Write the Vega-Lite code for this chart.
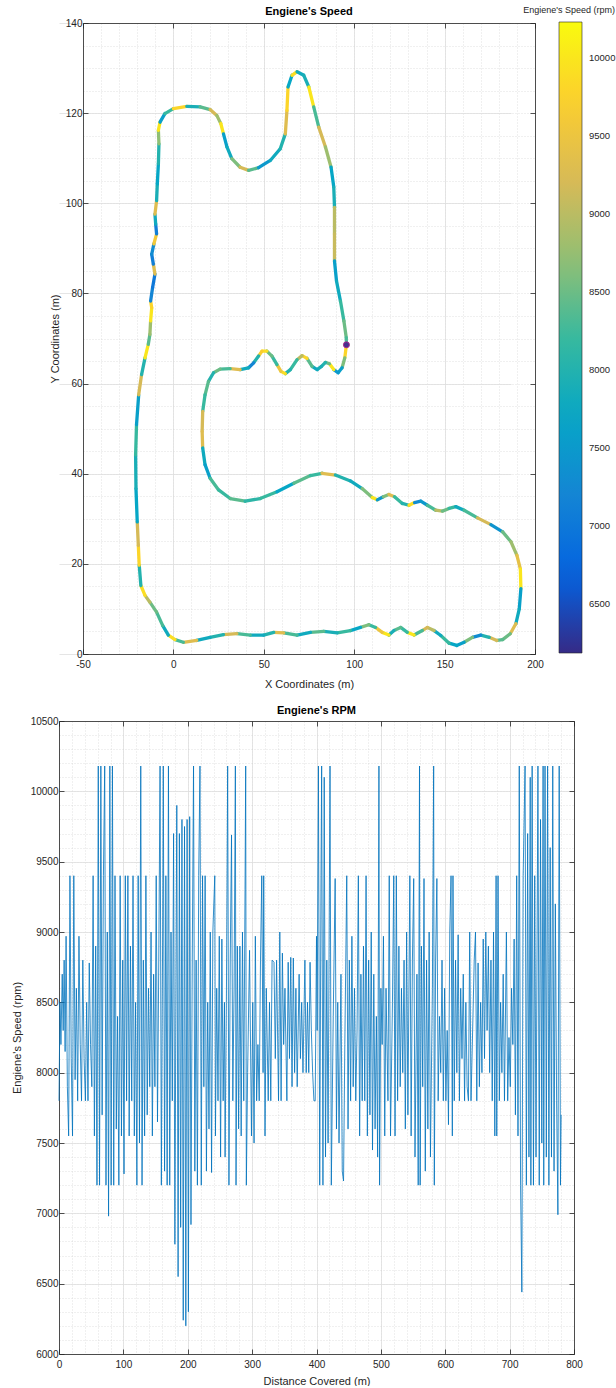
{
  "$schema": "https://vega.github.io/schema/vega-lite/v6.json",
  "background": "white",
  "padding": {"left": 11, "top": 6, "right": 0, "bottom": 0},
  "config": {
    "view": {"stroke": null},
    "font": "Liberation Sans",
    "title": {"font": "Liberation Sans"},
    "axis": {"labelFont": "Liberation Sans", "titleFont": "Liberation Sans"},
    "legend": {"labelFont": "Liberation Sans", "titleFont": "Liberation Sans"}
  },
  "align": "all",
  "spacing": 16,
  "datasets": {
    "start": [{"x": 95.7, "y": 68.6}],
    "track": [
      {"x":95.7,"y":68.6,"r":9800},{"x":94.8,"y":65.7,"r":8600},{"x":93.3,"y":63.5,"r":7600},{"x":91.1,"y":62.4,"r":7500},
      {"x":88.7,"y":63.1,"r":10000},{"x":86.3,"y":64.4,"r":8500},{"x":84.1,"y":64.7,"r":8000},{"x":81.9,"y":63.8,"r":7900},
      {"x":79.5,"y":63.1,"r":7800},{"x":76.7,"y":63.8,"r":8400},{"x":73.9,"y":65.6,"r":9800},{"x":71.2,"y":66.2,"r":9000},
      {"x":68.4,"y":65.3,"r":8200},{"x":64.7,"y":63.1,"r":8000},{"x":61.9,"y":62.2,"r":9900},{"x":59.5,"y":62.7,"r":9500},
      {"x":57.3,"y":64.2,"r":8200},{"x":54.5,"y":66.1,"r":8500},{"x":51.7,"y":67.2,"r":9900},{"x":49.0,"y":67.2,"r":9700},
      {"x":47.1,"y":66.1,"r":8000},{"x":44.4,"y":64.6,"r":7200},{"x":41.6,"y":63.5,"r":7800},{"x":36.9,"y":63.1,"r":9300},
      {"x":31.4,"y":63.3,"r":8300},{"x":25.8,"y":63.2,"r":8500},{"x":22.2,"y":62.4,"r":8000},{"x":19.4,"y":60.5,"r":8400},
      {"x":17.5,"y":57.5,"r":8200},{"x":16.2,"y":53.8,"r":9200},{"x":15.9,"y":49.4,"r":9300},{"x":16.2,"y":45.7,"r":7800},
      {"x":17.5,"y":42.0,"r":7600},{"x":20.3,"y":39.0,"r":8300},{"x":25.0,"y":36.4,"r":8200},{"x":31.4,"y":34.5,"r":8400},
      {"x":39.7,"y":33.9,"r":8100},{"x":48.0,"y":34.5,"r":8200},{"x":57.3,"y":36.0,"r":7700},{"x":66.6,"y":37.9,"r":8400},
      {"x":75.8,"y":39.6,"r":8200},{"x":82.2,"y":40.1,"r":9300},{"x":89.6,"y":39.7,"r":8000},{"x":97.9,"y":38.4,"r":7800},
      {"x":104.4,"y":36.7,"r":8600},{"x":110.0,"y":34.7,"r":10000},{"x":112.8,"y":34.2,"r":7500},{"x":116.1,"y":34.9,"r":8600},
      {"x":119.2,"y":35.4,"r":9300},{"x":122.3,"y":34.9,"r":8200},{"x":126.6,"y":33.4,"r":8000},{"x":130.3,"y":33.0,"r":9900},
      {"x":133.4,"y":33.6,"r":7300},{"x":136.8,"y":33.9,"r":7500},{"x":140.5,"y":33.0,"r":8300},{"x":145.1,"y":31.9,"r":9000},
      {"x":148.8,"y":31.7,"r":8500},{"x":152.5,"y":32.3,"r":8200},{"x":156.2,"y":32.7,"r":7800},{"x":160.8,"y":31.9,"r":8300},
      {"x":168.2,"y":30.2,"r":9200},{"x":175.6,"y":28.7,"r":7400},{"x":182.1,"y":27.1,"r":8500},{"x":186.7,"y":24.9,"r":8800},
      {"x":190.0,"y":21.9,"r":9400},{"x":191.9,"y":18.9,"r":10000},{"x":192.2,"y":14.5,"r":7600},{"x":191.3,"y":10.0,"r":7800},
      {"x":189.4,"y":6.7,"r":9300},{"x":186.3,"y":4.5,"r":8500},{"x":182.1,"y":3.2,"r":8400},{"x":178.9,"y":3.0,"r":9200},
      {"x":174.7,"y":3.7,"r":8000},{"x":170.0,"y":4.2,"r":7300},{"x":165.4,"y":3.7,"r":8600},{"x":160.8,"y":2.6,"r":7600},
      {"x":156.7,"y":1.9,"r":7700},{"x":152.5,"y":2.4,"r":8200},{"x":147.9,"y":4.1,"r":7800},{"x":144.2,"y":5.2,"r":9000},
      {"x":140.5,"y":5.9,"r":9200},{"x":137.7,"y":5.2,"r":8300},{"x":133.1,"y":4.2,"r":10000},{"x":129.4,"y":4.8,"r":8200},
      {"x":125.7,"y":5.9,"r":8400},{"x":122.0,"y":5.2,"r":7900},{"x":119.2,"y":4.2,"r":10000},{"x":115.5,"y":4.8,"r":9500},
      {"x":111.8,"y":5.9,"r":8200},{"x":108.1,"y":6.5,"r":8600},{"x":103.5,"y":5.9,"r":7700},{"x":97.9,"y":5.2,"r":8200},
      {"x":90.6,"y":4.7,"r":7900},{"x":83.2,"y":5.0,"r":8400},{"x":75.8,"y":4.8,"r":7800},{"x":68.4,"y":4.2,"r":8300},
      {"x":61.0,"y":4.7,"r":9300},{"x":55.5,"y":4.8,"r":8000},{"x":49.9,"y":4.2,"r":7800},{"x":42.5,"y":4.2,"r":8300},
      {"x":35.1,"y":4.5,"r":9200},{"x":27.7,"y":4.3,"r":8000},{"x":20.3,"y":3.7,"r":7800},{"x":12.9,"y":3.0,"r":9300},
      {"x":5.5,"y":2.6,"r":8300},{"x":0.9,"y":3.2,"r":9900},{"x":-2.8,"y":4.2,"r":7800},{"x":-5.9,"y":6.3,"r":8300},
      {"x":-9.3,"y":9.3,"r":8500},{"x":-13.0,"y":11.5,"r":9000},{"x":-15.7,"y":13.0,"r":9900},{"x":-18.0,"y":15.2,"r":8000},
      {"x":-18.9,"y":19.7,"r":9800},{"x":-19.4,"y":24.1,"r":9200},{"x":-20.0,"y":29.3,"r":7700},{"x":-20.7,"y":36.7,"r":7900},
      {"x":-20.9,"y":44.2,"r":8200},{"x":-20.4,"y":50.9,"r":7600},{"x":-19.2,"y":57.5,"r":9200},{"x":-17.6,"y":62.0,"r":8000},
      {"x":-15.7,"y":65.7,"r":10000},{"x":-13.9,"y":68.7,"r":8400},{"x":-13.0,"y":70.9,"r":8800},{"x":-12.6,"y":73.9,"r":10000},
      {"x":-12.0,"y":76.8,"r":9800},{"x":-12.6,"y":78.3,"r":7200},{"x":-11.5,"y":81.3,"r":7000},{"x":-10.2,"y":84.3,"r":9300},
      {"x":-11.1,"y":86.5,"r":7100},{"x":-12.0,"y":88.7,"r":7300},{"x":-10.8,"y":91.0,"r":9600},{"x":-9.3,"y":93.2,"r":7100},
      {"x":-9.8,"y":95.4,"r":7800},{"x":-10.2,"y":97.6,"r":9300},{"x":-9.3,"y":100.6,"r":7900},{"x":-8.9,"y":104.3,"r":7700},
      {"x":-8.3,"y":108.8,"r":8000},{"x":-8.0,"y":113.2,"r":8700},{"x":-8.3,"y":116.2,"r":10000},{"x":-7.4,"y":118.0,"r":7600},
      {"x":-4.7,"y":119.9,"r":8200},{"x":0.0,"y":121.0,"r":9800},{"x":7.4,"y":121.5,"r":7900},{"x":14.8,"y":121.4,"r":8400},
      {"x":20.3,"y":120.8,"r":9200},{"x":24.0,"y":119.5,"r":8800},{"x":26.2,"y":117.7,"r":10000},{"x":27.7,"y":115.4,"r":7600},
      {"x":29.6,"y":112.5,"r":7800},{"x":32.3,"y":109.9,"r":8600},{"x":36.9,"y":108.0,"r":9200},{"x":41.6,"y":107.3,"r":8400},
      {"x":47.1,"y":107.9,"r":7500},{"x":53.6,"y":109.5,"r":7800},{"x":59.1,"y":112.1,"r":8000},{"x":61.9,"y":115.4,"r":9300},
      {"x":62.8,"y":120.6,"r":9800},{"x":63.4,"y":125.8,"r":7700},{"x":65.6,"y":128.4,"r":9900},{"x":68.4,"y":129.2,"r":7800},
      {"x":72.1,"y":128.4,"r":7900},{"x":74.9,"y":125.8,"r":10000},{"x":77.6,"y":121.4,"r":8300},{"x":80.4,"y":116.9,"r":9200},
      {"x":84.1,"y":112.5,"r":8800},{"x":87.2,"y":108.0,"r":7700},{"x":88.7,"y":103.6,"r":7900},{"x":89.1,"y":99.1,"r":9000},
      {"x":89.1,"y":93.2,"r":9100},{"x":89.1,"y":87.2,"r":7600},{"x":90.2,"y":82.8,"r":7800},{"x":92.4,"y":78.3,"r":8200},
      {"x":94.3,"y":73.9,"r":8500},{"x":95.6,"y":70.2,"r":8300},{"x":95.7,"y":68.6,"r":8300}
    ],
    "series": [
      {"d":0,"r":7800},{"d":1.5,"r":8500},{"d":3,"r":8200},{"d":5,"r":8700},{"d":6.5,"r":8300},{"d":8,"r":8800},{"d":9.5,"r":8150},{"d":11,"r":8970},
      {"d":13,"r":7900},{"d":15,"r":7550},{"d":17,"r":9400},{"d":19,"r":8100},{"d":21,"r":7550},{"d":23,"r":9400},{"d":25,"r":7950},{"d":27,"r":8600},
      {"d":29,"r":7800},{"d":31,"r":8970},{"d":33,"r":8200},{"d":35,"r":7800},{"d":37,"r":8800},{"d":39,"r":8100},{"d":41,"r":7800},{"d":43,"r":8500},
      {"d":45,"r":7800},{"d":47,"r":8780},{"d":49,"r":8200},{"d":51,"r":7900},{"d":53,"r":9400},{"d":55,"r":7550},{"d":57,"r":8900},{"d":59,"r":7200},
      {"d":61,"r":10180},{"d":63,"r":7200},{"d":65,"r":10180},{"d":67,"r":7700},{"d":69,"r":9400},{"d":71,"r":10180},{"d":73,"r":7200},{"d":75,"r":9000},
      {"d":77,"r":6980},{"d":79,"r":10180},{"d":81,"r":7200},{"d":83,"r":10180},{"d":85,"r":7200},{"d":87,"r":9400},{"d":89,"r":7600},{"d":91,"r":8400},
      {"d":93,"r":7200},{"d":95,"r":9400},{"d":97,"r":7550},{"d":99,"r":8800},{"d":101,"r":7280},{"d":103,"r":9400},{"d":105,"r":7800},{"d":107,"r":9400},
      {"d":109,"r":7550},{"d":111,"r":8900},{"d":113,"r":7800},{"d":115,"r":9400},{"d":117,"r":7550},{"d":119,"r":8500},{"d":121,"r":7200},{"d":123,"r":9400},
      {"d":125,"r":7500},{"d":127,"r":10180},{"d":129,"r":7200},{"d":131,"r":8800},{"d":133,"r":7550},{"d":135,"r":9400},{"d":137,"r":7700},{"d":139,"r":8600},
      {"d":141,"r":7900},{"d":143,"r":9000},{"d":145,"r":7550},{"d":147,"r":8700},{"d":149,"r":7900},{"d":151,"r":9400},{"d":153,"r":7650},{"d":155,"r":8800},
      {"d":157,"r":10180},{"d":159,"r":7200},{"d":161,"r":9000},{"d":162,"r":10180},{"d":164,"r":7300},{"d":166,"r":9400},{"d":168,"r":7200},{"d":170,"r":10180},
      {"d":172,"r":7200},{"d":174,"r":9000},{"d":176,"r":7800},{"d":178,"r":9700},{"d":180,"r":6780},{"d":182,"r":9000},{"d":183,"r":9900},{"d":185,"r":6550},
      {"d":187,"r":9700},{"d":189,"r":6900},{"d":191,"r":9800},{"d":193,"r":6240},{"d":195,"r":9750},{"d":197,"r":6200},{"d":199,"r":9800},{"d":201,"r":6300},
      {"d":203,"r":9820},{"d":205,"r":6920},{"d":207,"r":8800},{"d":209,"r":10180},{"d":211,"r":7300},{"d":213,"r":8800},{"d":215,"r":7200},{"d":217,"r":9400},
      {"d":219,"r":10180},{"d":221,"r":7200},{"d":223,"r":9400},{"d":225,"r":7900},{"d":227,"r":9400},{"d":229,"r":7300},{"d":231,"r":8500},{"d":233,"r":7600},
      {"d":235,"r":9000},{"d":237,"r":7290},{"d":239,"r":9000},{"d":242,"r":9400},{"d":243,"r":7550},{"d":245,"r":8600},{"d":247,"r":7800},{"d":249,"r":8970},
      {"d":251,"r":7400},{"d":253,"r":8950},{"d":255,"r":7800},{"d":257,"r":8500},{"d":258,"r":7400},{"d":260,"r":8500},{"d":262,"r":10180},{"d":264,"r":7200},
      {"d":266,"r":8800},{"d":268,"r":9690},{"d":270,"r":7800},{"d":272,"r":8600},{"d":274,"r":10180},{"d":275,"r":7200},{"d":277,"r":8900},{"d":279,"r":7600},
      {"d":281,"r":8900},{"d":283,"r":7550},{"d":285,"r":9000},{"d":287,"r":7800},{"d":289,"r":9300},{"d":290,"r":10180},{"d":291,"r":7200},{"d":293,"r":8000},
      {"d":296,"r":8870},{"d":299,"r":7550},{"d":301,"r":8500},{"d":303,"r":7500},{"d":305,"r":8970},{"d":307,"r":7800},{"d":309,"r":8200},{"d":311,"r":7800},
      {"d":313,"r":8800},{"d":315,"r":9400},{"d":317,"r":8000},{"d":318,"r":9400},{"d":320,"r":7550},{"d":322,"r":8600},{"d":325,"r":7800},{"d":327,"r":8500},
      {"d":329,"r":7800},{"d":331,"r":8800},{"d":334,"r":8785},{"d":336,"r":8100},{"d":338,"r":8800},{"d":341,"r":7800},{"d":343,"r":9000},{"d":345,"r":7800},
      {"d":347,"r":8850},{"d":349,"r":8200},{"d":351,"r":8600},{"d":354,"r":7800},{"d":356,"r":8785},{"d":358,"r":8100},{"d":360,"r":8820},{"d":362,"r":7900},
      {"d":364,"r":8815},{"d":366,"r":8000},{"d":368,"r":8600},{"d":370,"r":7900},{"d":373,"r":8700},{"d":375,"r":8100},{"d":377,"r":8500},{"d":379,"r":8000},
      {"d":382,"r":8800},{"d":384,"r":8000},{"d":386,"r":8500},{"d":388,"r":8000},{"d":390,"r":8785},{"d":392,"r":8300},{"d":394,"r":8000},{"d":396,"r":7800},
      {"d":398,"r":7800},{"d":400,"r":8970},{"d":401,"r":8300},{"d":403,"r":10180},{"d":405,"r":7200},{"d":407,"r":9400},{"d":408,"r":10180},{"d":410,"r":7200},
      {"d":412,"r":10100},{"d":414,"r":7400},{"d":416,"r":8800},{"d":418,"r":7500},{"d":421,"r":10180},{"d":423,"r":7200},{"d":426,"r":8400},{"d":429,"r":9380},
      {"d":431,"r":7600},{"d":433,"r":8500},{"d":435,"r":7500},{"d":438,"r":8700},{"d":440,"r":7300},{"d":442,"r":7230},{"d":444,"r":8200},{"d":447,"r":9400},
      {"d":449,"r":7600},{"d":451,"r":8800},{"d":453,"r":7800},{"d":455,"r":8970},{"d":457,"r":7900},{"d":459,"r":8600},{"d":461,"r":7800},{"d":463,"r":8300},
      {"d":465,"r":9400},{"d":467,"r":7550},{"d":469,"r":8700},{"d":471,"r":7800},{"d":473,"r":8900},{"d":475,"r":7800},{"d":477,"r":9400},{"d":479,"r":7550},
      {"d":481,"r":8800},{"d":483,"r":7700},{"d":485,"r":9000},{"d":487,"r":7450},{"d":489,"r":8700},{"d":491,"r":7600},{"d":493,"r":8400},{"d":495,"r":7400},
      {"d":497,"r":10180},{"d":498,"r":7200},{"d":500,"r":8600},{"d":502,"r":8200},{"d":504,"r":8970},{"d":506,"r":7550},{"d":508,"r":8600},{"d":511,"r":7800},
      {"d":513,"r":9400},{"d":515,"r":7550},{"d":518,"r":8500},{"d":520,"r":9400},{"d":522,"r":7550},{"d":524,"r":9400},{"d":526,"r":7800},{"d":528,"r":8900},
      {"d":530,"r":7900},{"d":532,"r":8600},{"d":534,"r":8000},{"d":536,"r":8800},{"d":538,"r":7600},{"d":540,"r":9000},{"d":542,"r":7700},{"d":545,"r":9400},
      {"d":547,"r":7550},{"d":549,"r":8800},{"d":551,"r":9380},{"d":553,"r":7400},{"d":556,"r":8700},{"d":558,"r":7200},{"d":560,"r":10180},{"d":561,"r":7200},
      {"d":563,"r":8900},{"d":565,"r":7900},{"d":567,"r":9380},{"d":569,"r":7300},{"d":571,"r":8800},{"d":573,"r":7600},{"d":575,"r":9000},{"d":577,"r":7400},
      {"d":580,"r":8600},{"d":582,"r":10180},{"d":583,"r":7200},{"d":585,"r":8800},{"d":587,"r":9380},{"d":589,"r":7800},{"d":591,"r":8400},{"d":593,"r":8000},
      {"d":595,"r":8800},{"d":597,"r":7800},{"d":599,"r":8600},{"d":601,"r":7800},{"d":603,"r":8300},{"d":605,"r":7630},{"d":607,"r":9000},{"d":609,"r":9400},
      {"d":611,"r":7550},{"d":612,"r":9400},{"d":614,"r":7800},{"d":616,"r":8800},{"d":618,"r":8000},{"d":620,"r":8980},{"d":622,"r":7800},{"d":624,"r":8600},
      {"d":626,"r":8100},{"d":628,"r":8700},{"d":630,"r":7800},{"d":632,"r":8500},{"d":634,"r":7900},{"d":636,"r":7800},{"d":638,"r":9000},{"d":640,"r":7800},
      {"d":642,"r":8190},{"d":645,"r":8800},{"d":647,"r":9000},{"d":649,"r":7800},{"d":651,"r":8780},{"d":653,"r":7900},{"d":655,"r":8500},{"d":657,"r":8000},
      {"d":659,"r":8950},{"d":661,"r":8100},{"d":663,"r":9000},{"d":665,"r":8300},{"d":667,"r":8900},{"d":669,"r":8000},{"d":671,"r":8800},{"d":673,"r":7800},
      {"d":675,"r":9000},{"d":677,"r":7550},{"d":679,"r":9400},{"d":680,"r":7550},{"d":682,"r":9400},{"d":684,"r":7800},{"d":686,"r":8500},{"d":688,"r":8000},
      {"d":690,"r":8700},{"d":692,"r":7800},{"d":695,"r":9000},{"d":697,"r":7800},{"d":699,"r":8250},{"d":701,"r":7900},{"d":703,"r":8600},{"d":705,"r":8200},
      {"d":707,"r":8950},{"d":709,"r":7700},{"d":711,"r":9400},{"d":713,"r":7550},{"d":715,"r":10180},{"d":717,"r":7200},{"d":719,"r":6440},{"d":721,"r":9400},
      {"d":724,"r":10180},{"d":726,"r":7200},{"d":728,"r":9700},{"d":730,"r":7400},{"d":732,"r":10100},{"d":733,"r":7200},{"d":735,"r":10180},{"d":737,"r":7200},
      {"d":739,"r":9400},{"d":741,"r":7400},{"d":744,"r":10180},{"d":746,"r":7200},{"d":748,"r":9800},{"d":750,"r":7500},{"d":752,"r":10180},{"d":753,"r":7200},
      {"d":755,"r":10180},{"d":757,"r":7400},{"d":759,"r":10180},{"d":761,"r":7200},{"d":763,"r":9600},{"d":765,"r":7400},{"d":767,"r":10180},{"d":769,"r":7300},
      {"d":771,"r":9200},{"d":773,"r":7800},{"d":775,"r":6990},{"d":777,"r":10180},{"d":779,"r":7200},{"d":780,"r":7700}
    ]
  },
  "vconcat": [
    {
      "width": 476,
      "height": 631,
      "title": {"text": "Engiene's Speed", "fontSize": 11, "fontWeight": "bold", "color": "#000000", "frame": "group", "anchor": "middle", "dx": 12, "offset": 1},
      "resolve": {"axis": {"x": "independent", "y": "independent"}},
      "layer": [
        {
          "data": {"name": "start"},
          "mark": {"type": "point", "opacity": 0},
          "encoding": {
            "x": {"field": "x", "type": "quantitative", "scale": {"domain": [-50, 200], "range": [24, 476], "nice": false, "zero": false},
              "axis": {"orient": "bottom", "values": [-50,-40,-30,-20,-10,0,10,20,30,40,50,60,70,80,90,100,110,120,130,140,150,160,170,180,190,200], "grid": true, "gridDash": [1, 2], "gridColor": "#cfcfcf", "gridWidth": 0.6, "ticks": false, "labels": false, "domain": false, "title": null, "minExtent": 0, "maxExtent": 0}},
            "y": {"field": "y", "type": "quantitative", "scale": {"domain": [0, 140], "nice": false, "zero": false},
              "axis": {"orient": "left", "values": [0,5,10,15,20,25,30,35,40,45,50,55,60,65,70,75,80,85,90,95,100,105,110,115,120,125,130,135,140], "grid": true, "gridDash": [1, 2], "gridColor": "#cfcfcf", "gridWidth": 0.6, "ticks": false, "labels": false, "domain": false, "title": null, "minExtent": 0, "maxExtent": 0}}
          }
        },
        {
          "data": {"name": "start"},
          "mark": {"type": "point", "opacity": 0},
          "encoding": {
            "x": {"field": "x", "type": "quantitative", "scale": {"domain": [-50, 200], "range": [24, 476], "nice": false, "zero": false},
              "axis": {"orient": "top", "values": [-50, 0, 50, 100, 150, 200], "grid": true, "gridColor": "#dedede", "gridWidth": 0.8, "labels": false, "tickSize": -5, "tickColor": "#262626", "tickWidth": 0.8, "domainColor": "#262626", "domainWidth": 0.8, "title": null, "minExtent": 0, "maxExtent": 0}},
            "y": {"field": "y", "type": "quantitative", "scale": {"domain": [0, 140], "nice": false, "zero": false},
              "axis": {"orient": "right", "values": [0, 20, 40, 60, 80, 100, 120, 140], "grid": true, "gridColor": "#dedede", "gridWidth": 0.8, "labels": false, "tickSize": -5, "tickColor": "#262626", "tickWidth": 0.8, "domainColor": "#262626", "domainWidth": 0.8, "title": null, "minExtent": 0, "maxExtent": 0}}
          }
        },
        {
          "data": {"name": "track"},
          "transform": [
            {"window": [{"op": "lead", "field": "x", "as": "x2"}, {"op": "lead", "field": "y", "as": "y2"}]},
            {"filter": "datum.x2 != null"}
          ],
          "mark": {"type": "rule", "strokeWidth": 3.3, "strokeCap": "round"},
          "encoding": {
            "x": {"field": "x", "type": "quantitative", "scale": {"domain": [-50, 200], "range": [24, 476], "nice": false, "zero": false},
              "axis": {"orient": "bottom", "values": [-50, 0, 50, 100, 150, 200], "labelExpr": "'' + datum.value", "grid": false, "tickSize": -5, "tickColor": "#262626", "tickWidth": 0.8, "domainColor": "#262626", "domainWidth": 0.8, "labelFontSize": 10, "labelColor": "#262626", "labelPadding": 10, "labelFlush": false, "labelOverlap": false, "title": "X Coordinates (m)", "titleFontSize": 11, "titleFontWeight": "normal", "titleColor": "#262626", "titlePadding": 9}},
            "y": {"field": "y", "type": "quantitative", "scale": {"domain": [0, 140], "nice": false, "zero": false},
              "axis": {"orient": "left", "offset": -24, "values": [0, 20, 40, 60, 80, 100, 120, 140], "labelExpr": "'' + datum.value", "grid": false, "tickSize": -5, "tickColor": "#262626", "tickWidth": 0.8, "domainColor": "#262626", "domainWidth": 0.8, "labelFontSize": 10, "labelColor": "#262626", "labelPadding": 6, "labelOverlap": false, "title": "Y Coordinates (m)", "titleFontSize": 11, "titleFontWeight": "normal", "titleColor": "#262626", "titlePadding": 5}},
            "x2": {"field": "x2"},
            "y2": {"field": "y2"},
            "color": {"field": "r", "type": "quantitative",
              "scale": {"domain": [6186, 6692, 7197, 7703, 8208, 8714, 9220, 9725, 10231], "range": ["#352a87", "#0363e1", "#1485d4", "#06a7c6", "#38b99e", "#92bf73", "#d9ba56", "#fcce2e", "#f9fb0e"], "interpolate": "rgb"},
              "legend": {"orient": "none", "legendX": 464, "legendY": -17, "direction": "vertical", "gradientLength": 631, "gradientThickness": 23, "values": [6500, 7000, 7500, 8000, 8500, 9000, 9500, 10000], "labelExpr": "'' + datum.value", "title": "Engiene's Speed (rpm)", "titleFontSize": 9, "titleFontWeight": "normal", "titleColor": "#262626", "titleAnchor": "end", "titlePadding": 7, "labelFontSize": 9.5, "labelColor": "#262626", "labelOffset": 7, "labelOverlap": false, "gradientStrokeColor": "#262626", "gradientStrokeWidth": 0.6}}
          }
        },
        {
          "data": {"name": "start"},
          "mark": {"type": "point", "filled": true, "size": 36, "fill": "#46308e", "stroke": "#a8278c", "strokeWidth": 1, "opacity": 1},
          "encoding": {
            "x": {"field": "x", "type": "quantitative", "scale": {"domain": [-50, 200], "range": [24, 476], "nice": false, "zero": false}, "axis": null},
            "y": {"field": "y", "type": "quantitative", "scale": {"domain": [0, 140], "nice": false, "zero": false}, "axis": null}
          }
        }
      ]
    },
    {
      "width": 515,
      "height": 633,
      "title": {"text": "Engiene's RPM", "fontSize": 11, "fontWeight": "bold", "color": "#000000", "frame": "group", "anchor": "middle", "offset": 0},
      "resolve": {"axis": {"x": "independent", "y": "independent"}},
      "layer": [
        {
          "data": {"name": "series"},
          "mark": {"type": "line", "strokeOpacity": 0},
          "encoding": {
            "x": {"field": "d", "type": "quantitative", "scale": {"domain": [0, 800], "nice": false, "zero": false},
              "axis": {"orient": "bottom", "values": [0,20,40,60,80,100,120,140,160,180,200,220,240,260,280,300,320,340,360,380,400,420,440,460,480,500,520,540,560,580,600,620,640,660,680,700,720,740,760,780,800], "grid": true, "gridDash": [1, 2], "gridColor": "#cfcfcf", "gridWidth": 0.6, "ticks": false, "labels": false, "domain": false, "title": null, "minExtent": 0, "maxExtent": 0}},
            "y": {"field": "r", "type": "quantitative", "scale": {"domain": [6000, 10500], "nice": false, "zero": false},
              "axis": {"orient": "left", "values": [6000,6100,6200,6300,6400,6500,6600,6700,6800,6900,7000,7100,7200,7300,7400,7500,7600,7700,7800,7900,8000,8100,8200,8300,8400,8500,8600,8700,8800,8900,9000,9100,9200,9300,9400,9500,9600,9700,9800,9900,10000,10100,10200,10300,10400,10500], "grid": true, "gridDash": [1, 2], "gridColor": "#cfcfcf", "gridWidth": 0.6, "ticks": false, "labels": false, "domain": false, "title": null, "minExtent": 0, "maxExtent": 0}}
          }
        },
        {
          "data": {"name": "series"},
          "mark": {"type": "line", "strokeOpacity": 0},
          "encoding": {
            "x": {"field": "d", "type": "quantitative", "scale": {"domain": [0, 800], "nice": false, "zero": false},
              "axis": {"orient": "top", "values": [0, 100, 200, 300, 400, 500, 600, 700, 800], "grid": true, "gridColor": "#dedede", "gridWidth": 0.8, "labels": false, "tickSize": -5, "tickColor": "#262626", "tickWidth": 0.8, "domainColor": "#262626", "domainWidth": 0.8, "title": null, "minExtent": 0, "maxExtent": 0}},
            "y": {"field": "r", "type": "quantitative", "scale": {"domain": [6000, 10500], "nice": false, "zero": false},
              "axis": {"orient": "right", "values": [6000, 6500, 7000, 7500, 8000, 8500, 9000, 9500, 10000, 10500], "grid": true, "gridColor": "#dedede", "gridWidth": 0.8, "labels": false, "tickSize": -5, "tickColor": "#262626", "tickWidth": 0.8, "domainColor": "#262626", "domainWidth": 0.8, "title": null, "minExtent": 0, "maxExtent": 0}}
          }
        },
        {
          "data": {"name": "series"},
          "mark": {"type": "line", "strokeWidth": 0.8, "color": "#0072BD"},
          "encoding": {
            "x": {"field": "d", "type": "quantitative", "scale": {"domain": [0, 800], "nice": false, "zero": false},
              "axis": {"orient": "bottom", "values": [0, 100, 200, 300, 400, 500, 600, 700, 800], "labelExpr": "'' + datum.value", "grid": false, "tickSize": -5, "tickColor": "#262626", "tickWidth": 0.8, "domainColor": "#262626", "domainWidth": 0.8, "labelFontSize": 10, "labelColor": "#262626", "labelPadding": 10, "labelFlush": false, "labelOverlap": false, "title": "Distance Covered (m)", "titleFontSize": 11, "titleFontWeight": "normal", "titleColor": "#262626", "titlePadding": 6}},
            "y": {"field": "r", "type": "quantitative", "scale": {"domain": [6000, 10500], "nice": false, "zero": false},
              "axis": {"orient": "left", "values": [6000, 6500, 7000, 7500, 8000, 8500, 9000, 9500, 10000, 10500], "labelExpr": "'' + datum.value", "grid": false, "tickSize": -5, "tickColor": "#262626", "tickWidth": 0.8, "domainColor": "#262626", "domainWidth": 0.8, "labelFontSize": 10, "labelColor": "#262626", "labelPadding": 6, "labelOverlap": false, "title": "Engiene's Speed (rpm)", "titleFontSize": 11, "titleFontWeight": "normal", "titleColor": "#262626", "titlePadding": 8}}
          }
        }
      ]
    }
  ]
}
